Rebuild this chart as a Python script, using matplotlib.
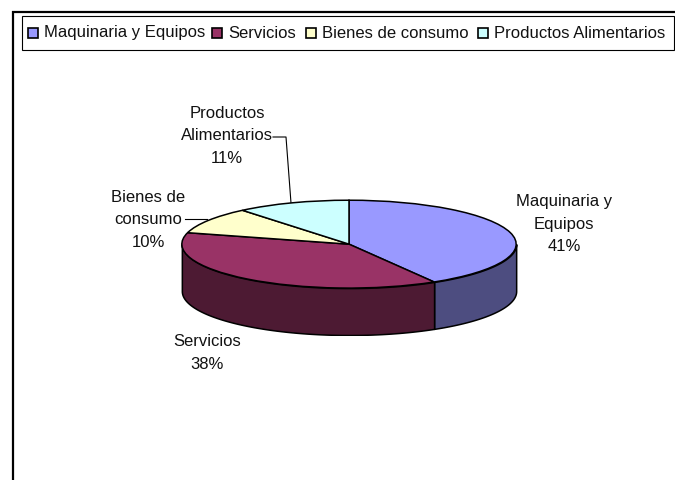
import numpy as np
import matplotlib
matplotlib.use("Agg")
import matplotlib.pyplot as plt
from matplotlib.patches import Rectangle

# data (slices estimated from the drawn angles, labels show them rounded)
categories = ["Maquinaria y Equipos", "Servicios", "Bienes de consumo", "Productos Alimentarios"]
values = [41.5, 37.7, 9.8, 11.0]
top_colors = ["#9999ff", "#993366", "#ffffcc", "#ccffff"]
side_colors = ["#4d4d80", "#4d1a33"]
labels = ["Maquinaria y\nEquipos\n41%", "Servicios\n38%", "Bienes de\nconsumo\n10%", "Productos\nAlimentarios\n11%"]

W, H = 675, 480
plt.rcParams["font.family"] = "Liberation Sans"
plt.rcParams["font.size"] = 12

fig = plt.figure(figsize=(W / 100, H / 100), dpi=100)

# background axes in pixel coords, for frame, legend and labels
bg = fig.add_axes([0, 0, 1, 1])
bg.set_xlim(0, W)
bg.set_ylim(H, 0)
bg.axis("off")
bg.plot([12.5, 12.5], [H, 11], color="black", lw=1.6, solid_capstyle="butt")
bg.plot([12, W], [11.5, 11.5], color="black", lw=1.6, solid_capstyle="butt")

# legend box
bg.add_patch(Rectangle((21.5, 15.5), 652.5, 34, fc="white", ec="black", lw=0.8))
swatch_x = [28, 212, 305.5, 478]
for x, cat, col in zip(swatch_x, categories, top_colors):
    bg.add_patch(Rectangle((x, 27.5), 10, 10, fc=col, ec="black", lw=1.2))
    bg.text(x + 16, 33, cat, ha="left", va="center", color="#111111")

# pie, radius 1 stretched to the ellipse
cx, cy, a, b, depth = 349, 244, 168, 44, 47
pie_ax = fig.add_axes([(cx - a) / W, 1 - (cy + b + depth) / H, 2 * a / W, (2 * b + depth) / H])
pie_ax.patch.set_alpha(0)
pie_ax.pie(values, colors=top_colors, startangle=90, counterclock=False,
           wedgeprops={"edgecolor": "black", "linewidth": 1.1})
pie_ax.set_aspect("auto")
pie_ax.set_xlim(-1.005, 1.005)
d = depth / b
pie_ax.set_ylim(-1 - d, 1.005)

# side wall, only the front half shows
frac = np.cumsum(values) / sum(values)
ang1 = 90 - 360 * frac[0]
th0 = np.radians(np.linspace(0, ang1, 60))
th1 = np.radians(np.linspace(ang1, -180, 120))
for th, col in zip([th0, th1], side_colors):
    x, y = np.cos(th), np.sin(th)
    pie_ax.fill_between(x, y, y - d, color=col, ec="black", lw=1.1, zorder=0)

# labels
label_pos = [(564, 224), (207, 353), (148, 220), (227, 136)]
for (x, y), lab in zip(label_pos, labels):
    bg.text(x, y, lab, ha="center", va="center", linespacing=1.65, color="#111111")

# leader lines
bg.plot([273, 286, 291], [137, 137, 203], color="black", lw=0.8)
bg.plot([185, 207], [219, 219], color="black", lw=0.8)

fig.savefig("out.png", dpi=100)
